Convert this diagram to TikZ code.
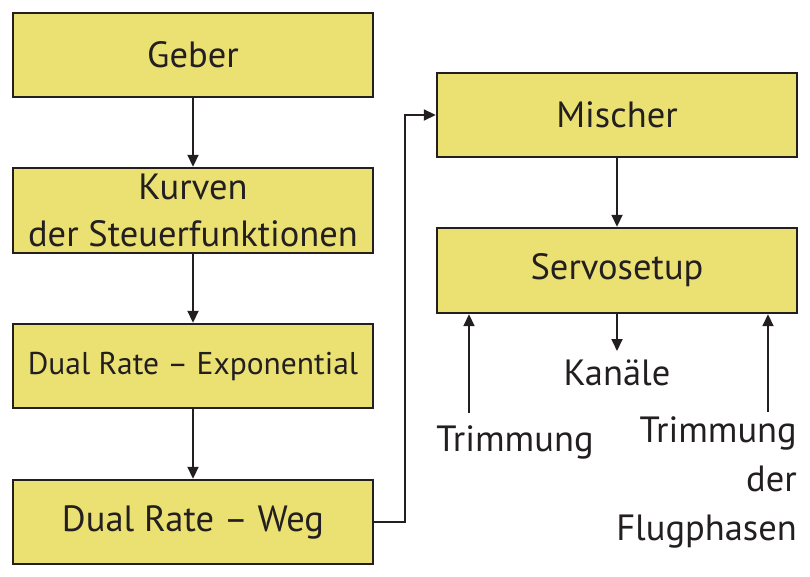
\documentclass[tikz,border=0pt]{standalone}
\usepackage{fontspec}
\setmainfont{PT Sans}
\usetikzlibrary{arrows.meta}
\definecolor{boxfill}{RGB}{235,225,115}
\definecolor{ink}{RGB}{35,31,32}
\tikzset{
  x=1pt, y=-1pt,
  box/.style={draw=ink, line width=2.4pt, fill=boxfill, minimum width=360pt, minimum height=84pt, inner sep=0pt, align=center, font=\fontsize{36.5}{47}\selectfont, text=ink},
  lbl/.style={inner sep=0pt, font=\fontsize{36.5}{49}\selectfont, text=ink},
  arr/.style={draw=ink, line width=1.8pt, -{Triangle[length=12pt,width=11pt]}},
}
\begin{document}
\begin{tikzpicture}
\useasboundingbox (0,0) rectangle (810,577);
\node[box] (geb) at (193,55) {Geber};
\node[box, minimum height=85pt] (kur) at (193,210.5) {Kurven\\der Steuerfunktionen};
\node[box, font=\fontsize{31.5}{40}\selectfont] (dre) at (193,366) {Dual Rate -- Exponential};
\node[box] (drw) at (193,522) {Dual Rate -- Weg};
\node[box] (mis) at (617,115) {Mischer};
\node[box, minimum height=85pt] (ser) at (617,270.5) {Servosetup};
\node[lbl] (kan) at (617,373) {Kanäle};
\node[lbl] (tr1) at (515,442) {Trimmung};
\node[lbl, align=right, anchor=north east] (tr2) at (797,416) {Trimmung\\der\\Flugphasen};
\coordinate (kanend) at (617,351);
\coordinate (t1) at (469,413);
\coordinate (t2) at (768,412);
\draw[arr] (geb) -- (kur);
\draw[arr] (kur) -- (dre);
\draw[arr] (dre) -- (drw);
\draw[arr] (mis) -- (ser);
\draw[arr] (drw.east) -- ++(31,0) |- (mis.west);
\draw[arr] (ser.south -| kanend) -- (kanend);
\draw[arr] (t1) -- (t1 |- ser.south);
\draw[arr] (t2) -- (t2 |- ser.south);
\end{tikzpicture}
\end{document}
